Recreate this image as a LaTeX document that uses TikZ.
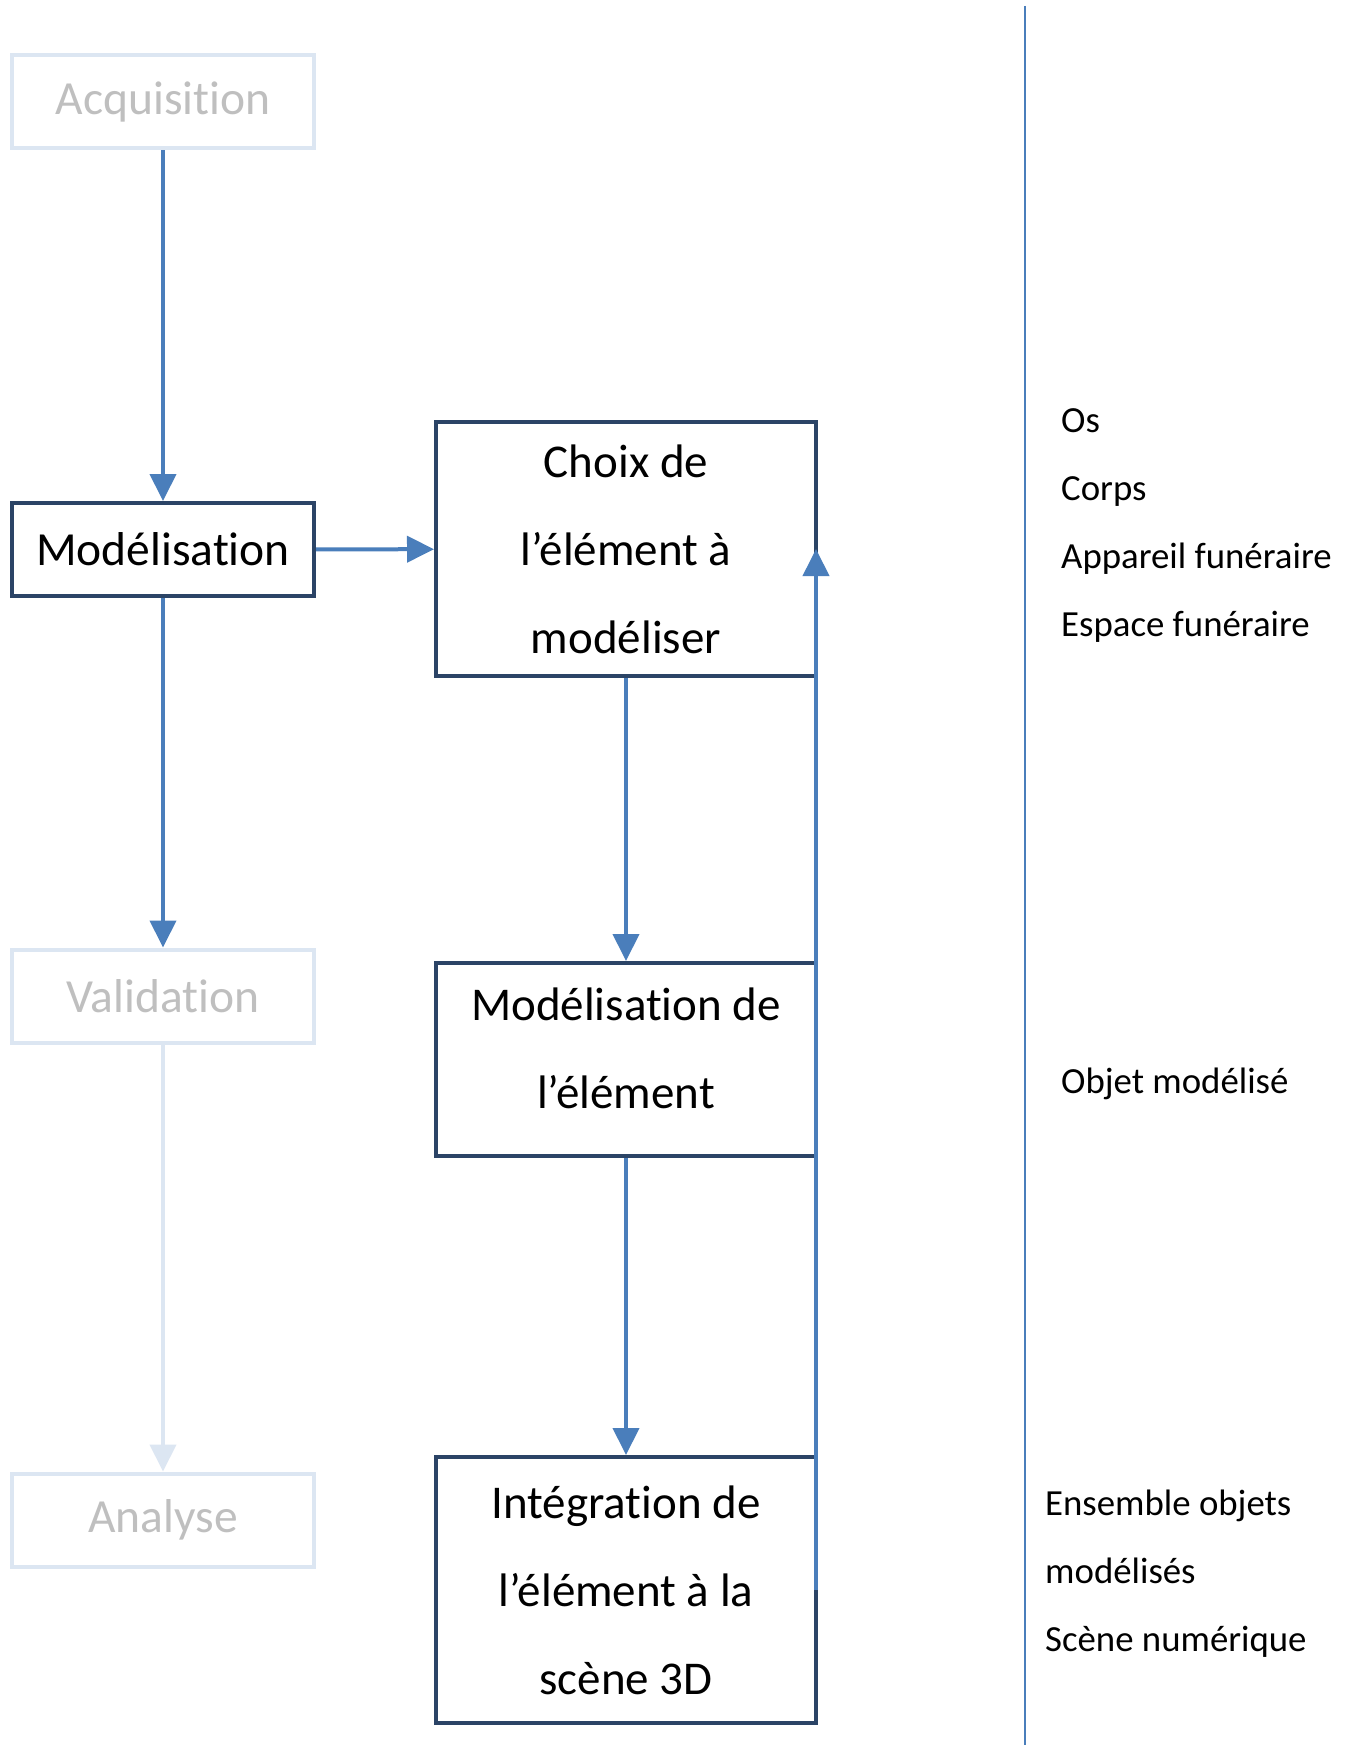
\documentclass[tikz,border=0pt]{standalone}
\usepackage{fontspec}
\setmainfont{Carlito}[Ligatures=NoCommon]
\usetikzlibrary{arrows.meta}
\definecolor{boxdark}{HTML}{2B4466}
\definecolor{flowblue}{HTML}{4A7EBB}
\definecolor{boxpale}{HTML}{DCE6F2}
\definecolor{textpale}{HTML}{BFBFBF}
\begin{document}
\begin{tikzpicture}[
    x=1pt, y=-1pt,
    stage/.style={draw=boxdark, line width=4pt, minimum width=302pt, minimum height=93pt, inner sep=0pt, font=\fontsize{47.5}{88}\selectfont},
    faded/.style={stage, draw=boxpale, text=textpale},
    task/.style={draw=boxdark, line width=4pt, minimum width=380pt, inner sep=0pt, align=center, font=\fontsize{47}{88}\selectfont},
    flow/.style={-{Triangle[length=27pt,width=26pt]}, line width=4pt, draw=flowblue},
    note/.style={anchor=base west, inner sep=0pt, font=\fontsize{36.8}{44}\selectfont}
]
    \fill[white] (0,0) rectangle (1356,1745);
    \useasboundingbox (0,0) rectangle (1356,1745);

    % étapes
    \node[faded] (acq) at (163,101.5) {Acquisition};
    \node[stage] (model) at (163,549.5) {Modélisation};
    \node[faded] (valid) at (163,996) {Validation};
    \node[faded] (analyse) at (163,1520) {Analyse};

    % sous-étapes
    \node[task, minimum height=254pt] (choix) at (626,549) {Choix de\\l’élément à\\modéliser};
    \node[task, minimum height=193pt, text depth=22pt] (modelem) at (626,1059.5) {Modélisation de\\l’élément};
    \node[task, minimum height=266pt] (integ) at (626,1590) {Intégration de\\l’élément à la\\scène 3D};

    % flèches
    \draw[flow] (acq) -- (model);
    \draw[flow] (model) -- (valid);
    \draw[flow, draw=boxpale] (valid) -- (analyse);
    \draw[flow] (model) -- (choix);
    \draw[flow] (choix) -- (modelem);
    \draw[flow] (modelem) -- (integ);
    \draw[flow] ([xshift=-2pt]integ.east) -- ([xshift=-2pt]choix.east);

    % séparation
    \draw[flowblue, line width=2pt] (1025,6) -- (1025,1745);

    % résultats
    \node[note] (os) at (1061,432) {Os};
    \node[note] (corps) at (1061,500) {Corps};
    \node[note] (appareil) at (1061,568) {Appareil funéraire};
    \node[note] (espace) at (1061,636) {Espace funéraire};
    \node[note] (objet) at (1061,1093) {Objet modélisé};
    \node[note] (ensemble) at (1045,1515) {Ensemble objets};
    \node[note] (modelises) at (1045,1583) {modélisés};
    \node[note] (scene) at (1045,1651) {Scène numérique};
\end{tikzpicture}
\end{document}
